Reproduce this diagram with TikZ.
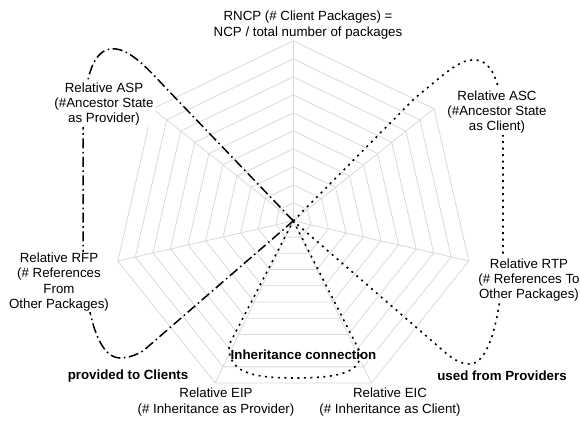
\documentclass[tikz,border=0pt]{standalone}
\usepackage{fontspec}
\setmainfont{Liberation Sans}
\usetikzlibrary{calc}
\begin{document}
\begin{tikzpicture}[x=1pt,y=-1pt,
  gridline/.style={draw=black!15,line width=0.8pt},
  lbl/.style={align=center,fill=white,inner sep=1pt,font=\fontsize{13.3}{15.4}\selectfont},
  blbl/.style={lbl,font=\fontsize{13.3}{15.4}\selectfont\bfseries},
  dashdotline/.style={line width=1.5pt,dash pattern=on 10pt off 3.5pt on 1.6pt off 3.5pt},
  dotline/.style={line width=1.6pt,dash pattern=on 2pt off 4.5pt}]
\useasboundingbox (0,0) rectangle (580,422);
\coordinate (C) at (293.3,220.9);
% grid
\begin{scope}[shift={(C)}]
\foreach \k in {1,...,10}{
  \draw[gridline] (90:{\k*18pt}) \foreach \i in {1,...,6}{ -- ({90+\i*360/7}:{\k*18pt}) } -- cycle;
}
\foreach \i in {0,...,6}{
  \draw[gridline] (0,0) -- ({90+\i*360/7}:180pt);
}
\end{scope}
% inheritance label under the loop
\node[blbl] (inh) at (303.5,355) {Inheritance connection};
% curves
\draw[dashdotline] (C) -- (163,85) .. controls (140,60) and (125,47) .. (110,49)
  .. controls (92,52) and (84,80) .. (83,130) -- (83,246)
  .. controls (84,300) and (95,358) .. (120,358)
  .. controls (128,358) and (136,355) .. (143,351) -- (C);
\draw[dotline] (C) -- (415,98) .. controls (440,78) and (458,60) .. (472,60)
  .. controls (495,58) and (503,90) .. (503,140) -- (503,249)
  .. controls (503,310) and (490,364) .. (470,364)
  .. controls (460,364) and (452,358) .. (447,354) -- (C);
\draw[dotline] (C) -- (360,352) .. controls (362,372) and (340,378) .. (295,378)
  .. controls (250,378) and (228,372) .. (229,345) -- (C);
% labels
\node[lbl] (rncp) at (308,25) {RNCP (\# Client Packages) =\\NCP / total number of packages};
\node[lbl] (asp) at (104,104) {Relative ASP\\(\#Ancestor State\\as Provider)};
\node[lbl] (asc) at (497,112) {Relative ASC\\(\#Ancestor State\\as Client)};
\node[lbl] (rtp) at (529,280) {Relative RTP\\(\# References To\\Other Packages)};
\node[lbl] (rfp) at (59,282) {Relative RFP\\(\# References\\From\\Other Packages)};
\node[lbl] (eip) at (216,402) {Relative EIP\\(\# Inheritance as Provider)};
\node[lbl] (eic) at (390,402) {Relative EIC\\(\# Inheritance as Client)};
\node[blbl] (prov) at (128,376) {provided to Clients};
\node[blbl] (used) at (502,376) {used from Providers};
\end{tikzpicture}
\end{document}
